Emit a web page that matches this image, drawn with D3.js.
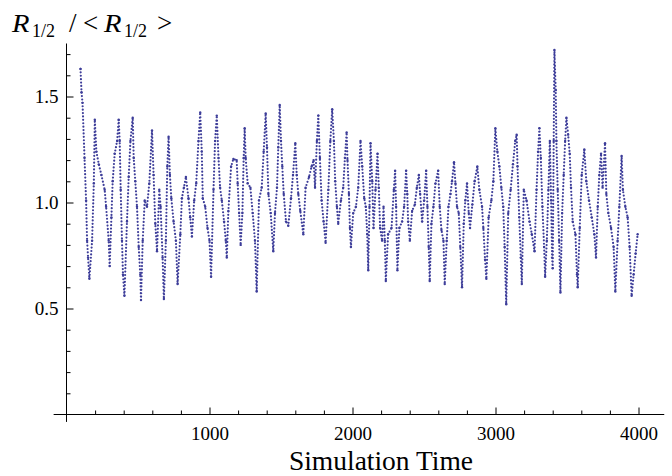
<!DOCTYPE html>
<html>
<head>
<meta charset="utf-8">
<script src="https://cdnjs.cloudflare.com/ajax/libs/d3/7.8.5/d3.min.js"></script>
<style>
    body { margin: 0; background: #fff; }
    svg { display: block; }
    text { font-family: "Liberation Serif", "Times New Roman", serif; fill: #000; }
</style>
</head>
<body>
<svg id="chart" width="672" height="476"></svg>
<script>
// R_1/2 relative to its mean (turning points of the dotted trace)
var time = [
    98, 105, 112, 126, 137, 144, 151, 160, 179, 191, 198, 209, 226, 244, 267, 277, 295, 302,
    314, 323, 337, 354, 365, 372, 379, 388, 395, 405, 423, 435, 447, 463, 470, 481, 493, 505,
    516, 521, 533, 547, 563, 579, 598, 609, 621, 633, 649, 658, 672, 681, 695, 705, 714, 723,
    733, 749, 765, 777, 796, 807, 821, 835, 853, 865, 877, 893, 907, 923, 935, 946, 953, 970,
    986, 1000, 1011, 1028, 1039, 1051, 1063, 1074, 1086, 1102, 1114, 1121, 1132, 1151, 1167, 1190,
    1197, 1207, 1218, 1230, 1239, 1246, 1253, 1267, 1286, 1302, 1318, 1330, 1346, 1365, 1379, 1393,
    1402, 1412, 1428, 1446, 1458, 1472, 1481, 1491, 1500, 1509, 1519, 1535, 1551, 1570, 1584, 1600,
    1610, 1621, 1635, 1656, 1672, 1696, 1714, 1728, 1738, 1751, 1761, 1772, 1784, 1798, 1812, 1831,
    1845, 1858, 1870, 1879, 1891, 1900, 1919, 1935, 1947, 1959, 1965, 1975, 1982, 1989, 2005, 2024,
    2040, 2056, 2068, 2082, 2093, 2103, 2110, 2119, 2126, 2138, 2147, 2161, 2175, 2184, 2193, 2207,
    2217, 2226, 2233, 2249, 2273, 2289, 2298, 2305, 2314, 2328, 2347, 2361, 2375, 2383, 2389, 2401,
    2417, 2436, 2450, 2464, 2473, 2487, 2501, 2515, 2524, 2533, 2540, 2552, 2566, 2580, 2599, 2610,
    2622, 2636, 2645, 2659, 2671, 2685, 2696, 2710, 2720, 2731, 2743, 2754, 2766, 2778, 2789, 2801,
    2813, 2822, 2838, 2854, 2873, 2887, 2906, 2915, 2927, 2936, 2952, 2971, 2985, 2999, 3013, 3027,
    3041, 3054, 3064, 3075, 3089, 3106, 3122, 3138, 3148, 3154, 3166, 3177, 3184, 3198, 3217, 3238,
    3254, 3273, 3287, 3298, 3307, 3317, 3328, 3340, 3347, 3359, 3370, 3380, 3389, 3396, 3400, 3407,
    3412, 3421, 3426, 3435, 3445, 3454, 3466, 3477, 3487, 3496, 3508, 3519, 3528, 3540, 3559, 3570,
    3575, 3589, 3603, 3621, 3635, 3654, 3673, 3691, 3703, 3715, 3726, 3738, 3749, 3766, 3775, 3789,
    3808, 3826, 3838, 3854, 3866, 3882, 3891, 3908, 3924, 3938, 3952, 3966, 3980, 3994
];
var ratio = [
    1.63, 1.52, 1.47, 1.21, 1.01, 0.82, 0.74, 0.64, 0.82, 1.09, 1.39, 1.24, 1.18, 1.13, 1.06, 0.98, 0.82, 0.70,
    0.93, 1.10, 1.23, 1.29, 1.39, 1.29, 1.06, 0.82, 0.66, 0.56, 0.91, 1.12, 1.29, 1.40, 1.21, 1.10, 0.98, 0.79,
    0.66, 0.54, 0.82, 1.01, 0.98, 1.09, 1.34, 1.13, 0.90, 0.77, 1.06, 0.98, 0.74, 0.545, 0.82, 1.17, 1.31, 1.13,
    1.02, 0.91, 0.82, 0.615, 0.85, 1.02, 1.07, 1.12, 1.02, 0.93, 0.84, 1.01, 1.09, 1.29, 1.425, 1.24, 1.02, 0.98,
    0.88, 0.82, 0.65, 1.06, 1.29, 1.41, 1.21, 1.07, 1.01, 0.91, 0.82, 0.74, 0.96, 1.17, 1.205, 1.20,
    1.09, 0.95, 0.80, 0.95, 1.21, 1.35, 1.21, 1.09, 1.07, 0.95, 0.82, 0.58, 1.01, 1.07, 1.24, 1.42,
    1.26, 1.04, 0.95, 0.77, 0.95, 1.07, 1.26, 1.46, 1.29, 1.17, 1.04, 0.91, 0.89, 1.02, 1.13, 1.28,
    1.13, 1.04, 0.96, 0.85, 1.07, 1.12, 1.17, 1.20, 1.07, 1.29, 1.41, 1.21, 1.01, 0.91, 0.81, 1.06,
    1.29, 1.44, 1.29, 1.10, 0.98, 0.90, 1.01, 1.07, 1.21, 1.33, 1.20, 1.04, 0.88, 0.79, 0.95, 0.98,
    1.07, 1.29, 1.17, 1.02, 0.98, 0.85, 0.68, 0.98, 1.28, 1.10, 0.88, 1.06, 1.23, 1.07, 0.88, 0.82,
    0.98, 0.82, 0.63, 0.85, 0.88, 1.06, 1.15, 0.98, 0.68, 0.88, 0.91, 0.98, 1.15, 1.04, 0.91, 0.82,
    0.96, 0.99, 1.07, 1.13, 1.04, 0.91, 1.01, 1.15, 0.98, 0.79, 0.63, 0.90, 0.98, 1.09, 1.15, 0.98,
    0.87, 0.82, 0.615, 0.82, 0.98, 1.04, 1.10, 1.19, 1.09, 0.98, 0.95, 0.79, 0.60, 0.90, 1.01, 1.09,
    0.95, 0.88, 0.99, 1.10, 1.17, 1.06, 0.98, 0.88, 0.73, 0.64, 0.93, 1.01, 1.10, 1.35, 1.24, 1.17,
    1.07, 0.98, 0.79, 0.52, 0.95, 1.06, 1.18, 1.29, 1.32, 1.17, 0.93, 0.74, 0.615, 1.06, 1.01, 0.91,
    0.85, 0.77, 1.06, 1.24, 1.35, 1.21, 0.98, 0.79, 0.65, 0.82, 1.06, 1.29, 1.01, 0.74, 0.69, 1.29,
    1.72, 1.53, 1.29, 1.06, 0.82, 0.575, 0.95, 1.13, 1.29, 1.40, 1.32, 1.23, 1.07, 0.91, 0.85, 0.66,
    0.60, 0.88, 1.13, 1.25, 1.10, 1.01, 0.93, 0.85, 0.74, 0.98, 1.13, 1.23, 1.07, 1.28, 1.04, 0.95,
    0.88, 0.79, 0.58, 0.82, 0.98, 1.22, 1.06, 0.98, 0.93, 0.79, 0.56, 0.66, 0.76, 0.85
];

// ticks
var xMajor = [1000, 2000, 3000, 4000];
var xMinor = [200, 400, 600, 800, 1200, 1400, 1600, 1800, 2200, 2400, 2600, 2800, 3200, 3400, 3600, 3800];
var yMajor = [0.5, 1.0, 1.5];
var yTickLabels = ["0.5", "1.0", "1.5"];
var yMinor = [0.1, 0.2, 0.3, 0.4, 0.6, 0.7, 0.8, 0.9, 1.1, 1.2, 1.3, 1.4, 1.6, 1.7];

var svg = d3.select("#chart");

var x = d3.scaleLinear().domain([0, 4000]).range([66.5, 638.5]);
var y = d3.scaleLinear().domain([0, 1.5]).range([414.5, 96.5]);

var dotColor = "#3d3d99";

///////////////////////
// Оси
///////////////////////

// axis lines run a little past the data, as Mathematica draws them
svg.append("line")
    .attr("x1", x(-90)).attr("x2", x(4180))
    .attr("y1", y(0)).attr("y2", y(0))
    .attr("stroke", "#000").attr("stroke-width", 1);
svg.append("line")
    .attr("x1", x(0)).attr("x2", x(0))
    .attr("y1", y(-0.035)).attr("y2", y(1.75))
    .attr("stroke", "#000").attr("stroke-width", 1);

svg.append("g")
    .attr("transform", "translate(0," + y(0) + ")")
    .call(d3.axisBottom(x).tickValues(xMajor).tickSize(-7).tickPadding(12).tickFormat(d3.format("d")));
svg.append("g")
    .attr("transform", "translate(0," + y(0) + ")")
    .call(d3.axisBottom(x).tickValues(xMinor).tickSize(-4).tickFormat(""));

svg.append("g")
    .attr("transform", "translate(" + x(0) + ",0)")
    .call(d3.axisLeft(y).tickValues(yMajor).tickSize(-7).tickPadding(8)
        .tickFormat(function(d, i) { return yTickLabels[i]; }));
svg.append("g")
    .attr("transform", "translate(" + x(0) + ",0)")
    .call(d3.axisLeft(y).tickValues(yMinor).tickSize(-4).tickFormat(""));

svg.selectAll(".domain").remove();
svg.selectAll(".tick line").attr("stroke", "#000");
svg.selectAll(".tick text")
    .attr("font-family", '"Liberation Serif", "Times New Roman", serif')
    .attr("font-size", 19)
    .attr("fill", "#000");

///////////////////////
// Точки
///////////////////////

var idx = d3.range(time.length);

// dense sampling of the run shows up as strings of dots
svg.append("path")
    .datum(idx)
    .attr("d", d3.line()
        .x(function(i) { return x(time[i]); })
        .y(function(i) { return y(ratio[i]); }))
    .attr("fill", "none")
    .attr("stroke", dotColor)
    .attr("stroke-width", 2.2)
    .attr("stroke-linecap", "round")
    .attr("stroke-dasharray", "0 3.4");

svg.append("g").selectAll("circle")
    .data(idx)
    .enter().append("circle")
    .attr("cx", function(i) { return x(time[i]); })
    .attr("cy", function(i) { return y(ratio[i]); })
    .attr("r", 1.2)
    .attr("fill", dotColor);

///////////////////////
// Подписи
///////////////////////

svg.append("text")
    .attr("x", 381).attr("y", 470)
    .attr("text-anchor", "middle")
    .attr("font-size", 27.5)
    .text("Simulation Time");

var ylab = svg.append("g");
var base = 31.5, sub = 37;
ylab.append("text").attr("transform", "translate(12," + base + ") scale(1.1,1)")
    .attr("font-size", 26).attr("font-style", "italic").text("R");
ylab.append("text").attr("x", 32).attr("y", sub).attr("font-size", 18).text("1/2");
ylab.append("text").attr("x", 69).attr("y", base).attr("font-size", 27).text("/");
ylab.append("text").attr("x", 83).attr("y", base).attr("font-size", 27).text("<");
ylab.append("text").attr("transform", "translate(104," + base + ") scale(1.1,1)")
    .attr("font-size", 26).attr("font-style", "italic").text("R");
ylab.append("text").attr("x", 124).attr("y", sub).attr("font-size", 18).text("1/2");
ylab.append("text").attr("x", 157).attr("y", base).attr("font-size", 27).text(">");
</script>
</body>
</html>
